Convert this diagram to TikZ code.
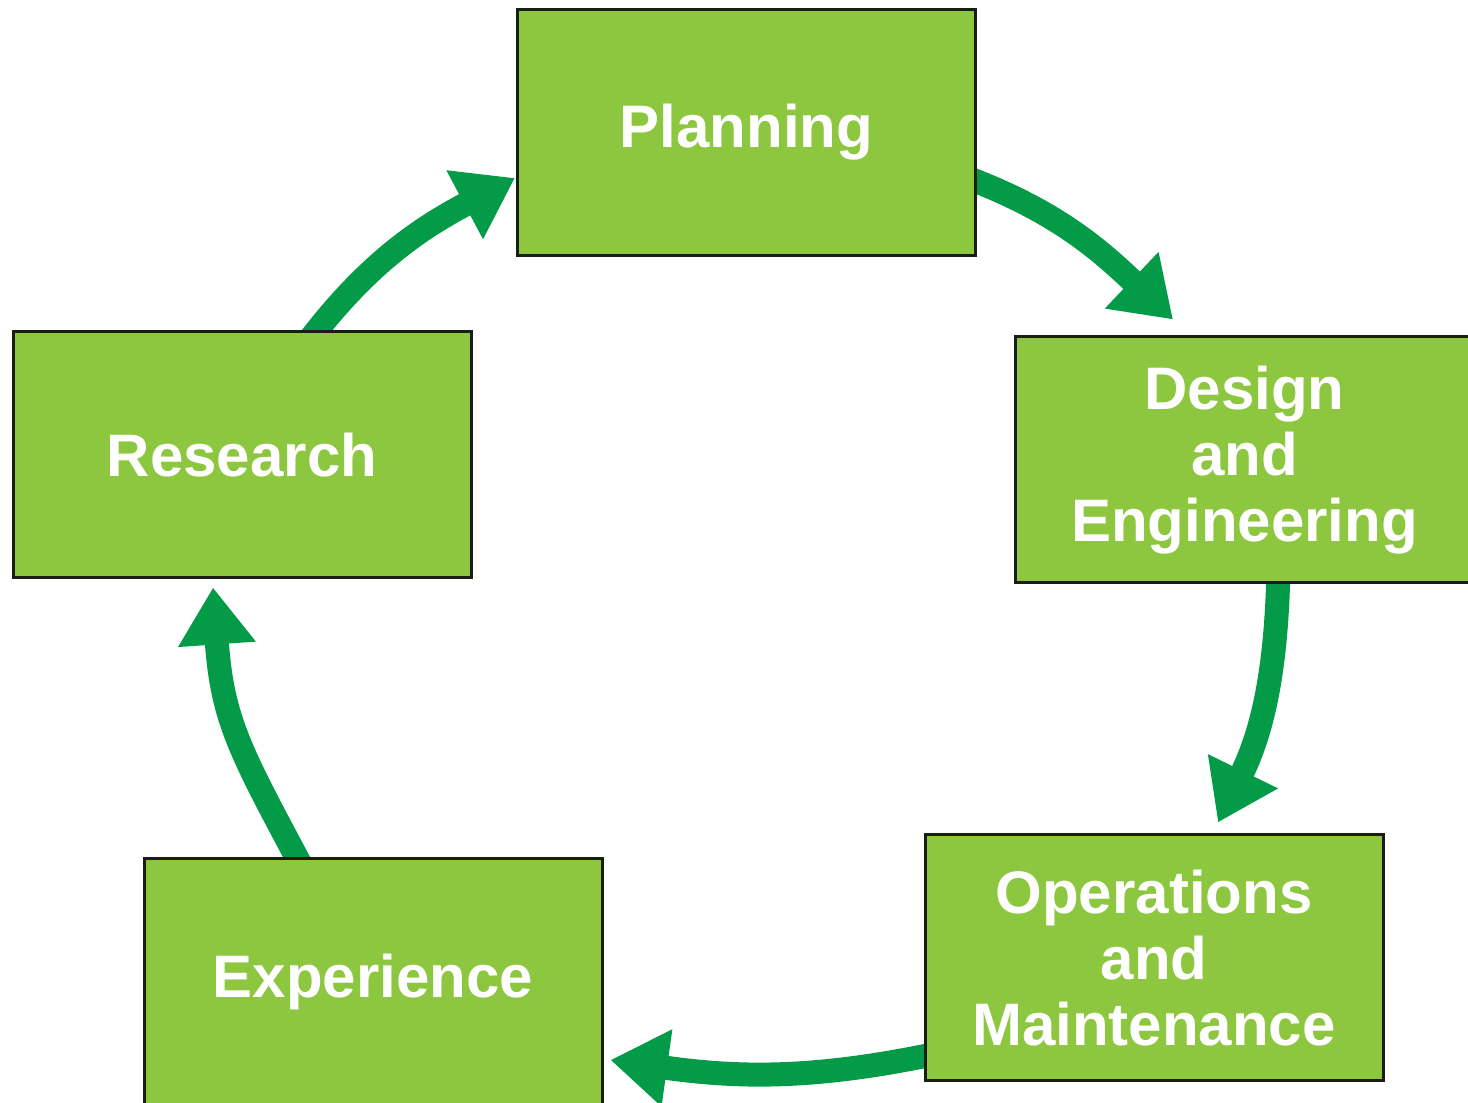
\documentclass[tikz,border=0pt]{standalone}
\usepackage{fontspec}
\setmainfont{Liberation Sans}
\usetikzlibrary{arrows.meta,backgrounds}
\definecolor{boxgreen}{RGB}{141,198,63}
\definecolor{arrowgreen}{RGB}{3,154,72}
\definecolor{boxline}{RGB}{25,30,20}
\tikzset{
  stagebox/.style={draw=boxline, line width=3pt, fill=boxgreen, minimum width=458pt, minimum height=246pt,
    inner sep=0pt, align=center, text=white,
    font=\fontsize{60}{66}\selectfont\bfseries},
  cyclearrow/.style={draw=arrowgreen, line width=24pt,
    -{Triangle[width=74pt,length=57pt]}}
}
\begin{document}
\begin{tikzpicture}[x=1pt,y=1pt]
\useasboundingbox (0,0) rectangle (1468,1103);
\node[stagebox] (plan) at (746.5,970.5) {Planning};
\node[stagebox] (design) at (1244.5,643) {Design\\and\\Engineering};
\node[stagebox] (ops) at (1154,145) {Operations\\and\\Maintenance};
\node[stagebox] (exp) at (373,121.5) {Experience};
\node[stagebox] (res) at (242,648) {Research};
\begin{scope}[on background layer]
\draw[cyclearrow] ([yshift=-43pt,xshift=-16pt]plan.east) to[out=-20,in=136.5] ([xshift=-71.5pt,yshift=16pt]design.north);
\draw[cyclearrow] ([xshift=34pt,yshift=18pt]design.south) to[out=-91,in=64] ([xshift=64pt,yshift=11pt]ops.north);
\draw[cyclearrow] ([yshift=-95pt,xshift=16pt]ops.west) to[out=192,in=-8] ([xshift=7pt,yshift=-78.5pt]exp.east);
\draw[cyclearrow] ([xshift=-68pt,yshift=-16pt]exp.north) to[out=118,in=-86,looseness=1.15] ([xshift=-29pt,yshift=-8pt]res.south);
\draw[cyclearrow] ([xshift=64pt,yshift=-14pt]res.north) to[out=53,in=208] ([xshift=-1pt,yshift=-45.5pt]plan.west);
\end{scope}
\end{tikzpicture}
\end{document}
